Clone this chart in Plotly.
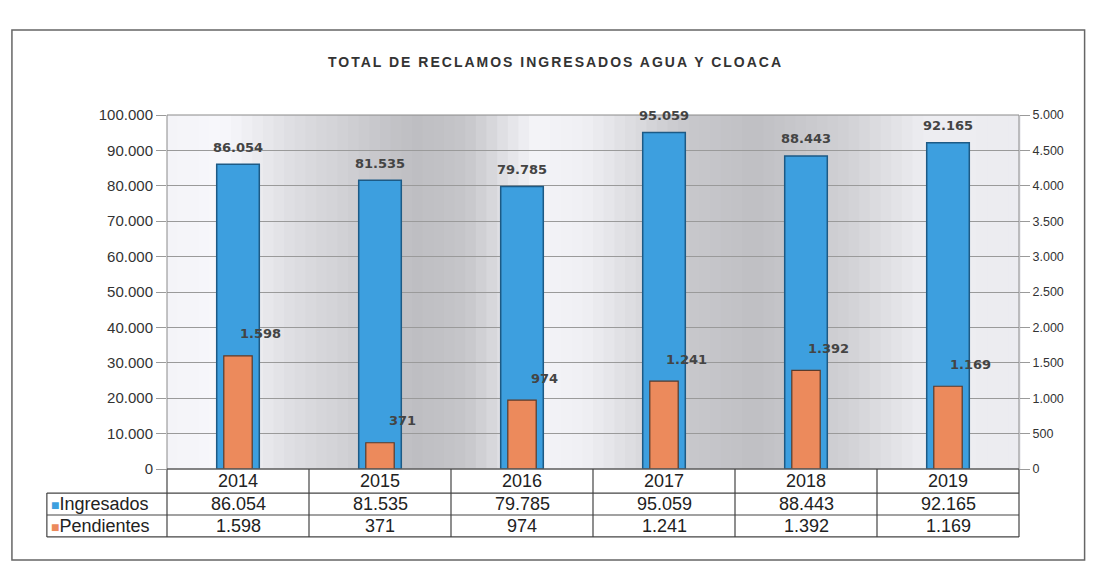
import plotly.graph_objects as go
import numpy as np

years = ["2014", "2015", "2016", "2017", "2018", "2019"]
ingresados = [86054, 81535, 79785, 95059, 88443, 92165]
pendientes = [1598, 371, 974, 1241, 1392, 1169]

BLUE = "#3d9fdf"
ORANGE = "#ec8a5c"
TXT = "#333333"
FONT = "Liberation Sans, Arial, sans-serif"
LBL = dict(size=13, color="#444", family="DejaVu Sans, Arial")


def fmt(v):
    return f"{v:,}".replace(",", ".")


fig = go.Figure()
fig.add_trace(go.Bar(x=years, y=ingresados, name="Ingresados", width=0.3,
                     marker=dict(color=BLUE, line=dict(color="#1d5a85", width=1.5)),
                     offsetgroup="a"))
fig.add_trace(go.Bar(x=years, y=pendientes, name="Pendientes", width=0.2, yaxis="y2",
                     marker=dict(color=ORANGE, line=dict(color="#5a3a2a", width=1.2)),
                     offsetgroup="a"))

# value labels: above the blue bars, upper right of the orange ones
for i, (vi, vp) in enumerate(zip(ingresados, pendientes)):
    fig.add_annotation(x=i, xref="x", y=vi, yref="y", text=f"<b>{fmt(vi)}</b>", showarrow=False,
                       yanchor="middle", yshift=17, font=LBL)
    fig.add_annotation(x=i, xref="x", y=vp, yref="y2", text=f"<b>{fmt(vp)}</b>", showarrow=False,
                       yanchor="middle", xshift=22, yshift=22, font=LBL)

# grey shaded background of the plot area
stops_x = [0, 0.065, 0.15, 0.29, 0.35, 0.43, 0.49, 0.6, 0.69, 0.8, 0.89, 1.0]
stops_g = [244, 248, 222, 190, 198, 244, 240, 202, 192, 210, 238, 236]
n = 80
edges = np.linspace(0, 1, n + 1)
for a, b in zip(edges[:-1], edges[1:]):
    g = int(np.interp((a + b) / 2, stops_x, stops_g))
    fig.add_shape(type="rect", xref="x domain", yref="y domain", x0=a, x1=b + 0.002, y0=0, y1=1,
                  fillcolor=f"rgb({g},{g},{min(g + 4, 255)})", line_width=0, layer="below")

fig.add_shape(type="rect", xref="paper", yref="paper", x0=0, x1=1, y0=0, y1=1,
              line=dict(color="#8a8a8a", width=1))

# outer frame
fig.add_shape(type="rect", xref="paper", yref="paper", x0=-0.182, x1=1.077, y0=-0.257, y1=1.24,
              line=dict(color="#666", width=1.5))

# data table under the plot
rows_y = [0, -0.068, -0.130, -0.192]
left = -0.141
for i, yv in enumerate(rows_y):
    x0 = 0 if i == 0 else left
    fig.add_shape(type="line", xref="paper", yref="paper", x0=x0, x1=1, y0=yv, y1=yv,
                  line=dict(color="#444", width=1.2))
for k in range(len(years) + 1):
    fig.add_shape(type="line", xref="paper", yref="paper", x0=k / len(years), x1=k / len(years),
                  y0=0, y1=rows_y[-1], line=dict(color="#444", width=1.2))
fig.add_shape(type="line", xref="paper", yref="paper", x0=left, x1=left, y0=rows_y[1], y1=rows_y[-1],
              line=dict(color="#444", width=1.2))

for i, (yr, vi, vp) in enumerate(zip(years, ingresados, pendientes)):
    for txt, (ya, yb) in [(yr, rows_y[0:2]), (fmt(vi), rows_y[1:3]), (fmt(vp), rows_y[2:4])]:
        fig.add_annotation(x=i, xref="x", y=(ya + yb) / 2, yref="paper", yanchor="middle",
                           text=txt, showarrow=False, font=dict(size=18, color="#222", family=FONT))

for name, col, (ya, yb) in [("Ingresados", BLUE, rows_y[1:3]), ("Pendientes", ORANGE, rows_y[2:4])]:
    fig.add_annotation(x=left + 0.002, xref="paper", xanchor="left", y=(ya + yb) / 2, yref="paper",
                       yanchor="middle",
                       text=f'<span style="color:{col};font-size:14px">■</span>{name}', showarrow=False,
                       font=dict(size=18, color="#222", family=FONT))

fig.update_layout(
    width=1095, height=573,
    margin=dict(l=159, r=84, t=107, b=112),
    paper_bgcolor="white", plot_bgcolor="white",
    separators=",.",
    barmode="overlay", showlegend=False,
    title=dict(text='<span style="letter-spacing:2px"><b>TOTAL DE RECLAMOS INGRESADOS AGUA Y CLOACA</b></span>',
               x=0.5, xanchor="center", y=0.906, yanchor="middle",
               font=dict(size=14, color="#333", family="Liberation Sans, Arial")),
    font=dict(family=FONT, color=TXT),
    xaxis=dict(type="category", showticklabels=False, showgrid=False, ticks="", range=[-0.5, 5.5]),
    yaxis=dict(range=[0, 100000], dtick=10000, tickformat=",d", showgrid=True, gridcolor="#9a9a9a",
               gridwidth=1, ticks="outside", ticklen=10, tickcolor="#9a9a9a",
               tickfont=dict(size=15, color=TXT), zeroline=False),
    yaxis2=dict(range=[0, 5000], dtick=500, tickformat=",d", overlaying="y", side="right",
                showgrid=False, ticks="outside", ticklen=10, tickcolor="#9a9a9a",
                tickfont=dict(size=12.5, color=TXT), zeroline=False),
)

fig.write_html("out.html")
